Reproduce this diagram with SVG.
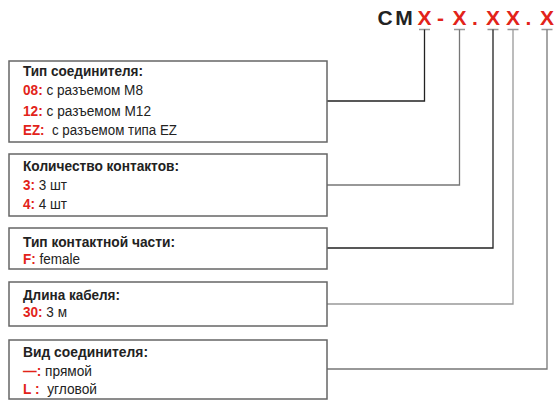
<svg xmlns="http://www.w3.org/2000/svg" width="559" height="403" viewBox="0 0 559 403">
<style>
.box{fill:#fff;stroke:#666;stroke-width:1.5}
.t{font-family:"Liberation Sans",Arial,sans-serif;font-size:14px;fill:#222}
.b{font-weight:bold}
.r{fill:#e2231a;font-weight:bold}
.h{font-family:"Liberation Sans",Arial,sans-serif;font-size:21px;font-weight:bold;text-anchor:middle}
.k{fill:#222}
.x{fill:#e2231a}
.c{fill:none;stroke-width:1.3}
.d{stroke:#222}
.g{stroke:#777}
.l{stroke:#999}
</style>
<g id="header">
<text class="h k" x="385" y="25">C</text>
<text class="h k" x="404" y="25">M</text>
<text class="h x" x="424.5" y="25">X</text>
<text class="h x" x="440.5" y="25">-</text>
<text class="h x" x="459.5" y="25">X</text>
<text class="h x" x="475" y="25">.</text>
<text class="h x" x="493" y="25">X</text>
<text class="h x" x="513" y="25">X</text>
<text class="h x" x="528.5" y="25">.</text>
<text class="h x" x="547" y="25">X</text>
</g>
<g id="connectors">
<path class="c l" d="M419,29.5H430M454,29.5H465M487.5,29.5H498.5M507.5,29.5H518.5M541.5,29.5H552.5"/>
<path class="c d" d="M424.5,29.5V101H327"/>
<path class="c g" d="M459.5,29.5V185H327"/>
<path class="c d" d="M493,29.5V248H327"/>
<path class="c l" d="M513,29.5V304H327"/>
<path class="c g" d="M547,29.5V369H327"/>
</g>
<g id="node1">
<rect class="box" x="9" y="61" width="318" height="81"/>
<text class="t b" x="23" y="76" textLength="120" lengthAdjust="spacingAndGlyphs">Тип соединителя:</text>
<text class="t" x="23" y="95" textLength="120" lengthAdjust="spacingAndGlyphs"><tspan class="r">08:</tspan> с разъемом М8</text>
<text class="t" x="23" y="115.5" textLength="128" lengthAdjust="spacingAndGlyphs"><tspan class="r">12:</tspan> с разъемом М12</text>
<text class="t" x="23" y="135" textLength="154" lengthAdjust="spacingAndGlyphs" xml:space="preserve"><tspan class="r">EZ:</tspan>  с разъемом типа EZ</text>
</g>
<g id="node2">
<rect class="box" x="9" y="154" width="318" height="62"/>
<text class="t b" x="23" y="171" textLength="156" lengthAdjust="spacingAndGlyphs">Количество контактов:</text>
<text class="t" x="23" y="190" textLength="44" lengthAdjust="spacingAndGlyphs"><tspan class="r">3:</tspan> 3 шт</text>
<text class="t" x="23" y="209" textLength="44" lengthAdjust="spacingAndGlyphs"><tspan class="r">4:</tspan> 4 шт</text>
</g>
<g id="node3">
<rect class="box" x="9" y="228" width="318" height="41"/>
<text class="t b" x="23" y="246.5" textLength="152" lengthAdjust="spacingAndGlyphs">Тип контактной части:</text>
<text class="t" x="23" y="263.5" textLength="57" lengthAdjust="spacingAndGlyphs"><tspan class="r">F:</tspan> female</text>
</g>
<g id="node4">
<rect class="box" x="9" y="282" width="318" height="44"/>
<text class="t b" x="23" y="300" textLength="97" lengthAdjust="spacingAndGlyphs">Длина кабеля:</text>
<text class="t" x="23" y="317" textLength="44" lengthAdjust="spacingAndGlyphs"><tspan class="r">30:</tspan> 3 м</text>
</g>
<g id="node5">
<rect class="box" x="9" y="340" width="318" height="59"/>
<text class="t b" x="23" y="357" textLength="125" lengthAdjust="spacingAndGlyphs">Вид соединителя:</text>
<text class="t" x="23" y="375.5" textLength="69" lengthAdjust="spacingAndGlyphs"><tspan class="r">—:</tspan> прямой</text>
<text class="t" x="23" y="394" textLength="74" lengthAdjust="spacingAndGlyphs" xml:space="preserve"><tspan class="r">L :</tspan>  угловой</text>
</g>
</svg>
